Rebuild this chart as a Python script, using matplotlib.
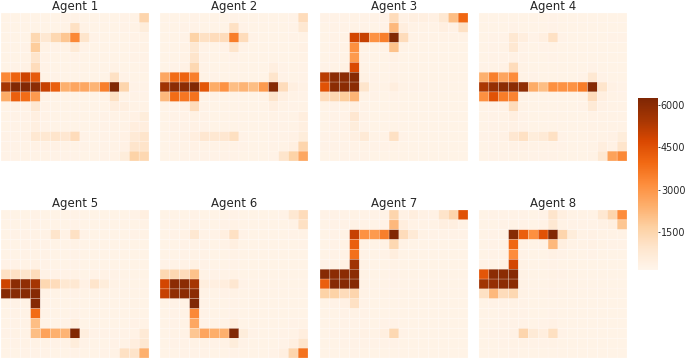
import numpy as np
import matplotlib
matplotlib.use('Agg')
from matplotlib import pyplot as plt

agent_1 = [
    [270, 270, 270, 280, 280, 280, 300, 300, 280, 280, 280, 280, 300, 330, 1500],
    [270, 270, 270, 280, 280, 280, 330, 1100, 330, 280, 280, 280, 300, 330, 600],
    [270, 280, 280, 1400, 800, 1400, 1900, 3300, 950, 300, 280, 280, 280, 300, 330],
    [270, 280, 300, 1750, 330, 300, 330, 700, 300, 280, 280, 280, 280, 300, 330],
    [270, 280, 330, 950, 300, 280, 280, 300, 280, 280, 280, 280, 280, 300, 310],
    [280, 300, 360, 1250, 300, 280, 280, 280, 280, 280, 280, 330, 280, 280, 300],
    [3300, 4100, 4900, 4300, 330, 300, 280, 280, 280, 280, 280, 1100, 310, 280, 280],
    [5500, 6200, 6200, 6000, 5000, 4200, 2400, 2650, 2600, 2300, 3500, 6200, 1500, 310, 300],
    [2500, 4200, 3900, 2900, 330, 280, 280, 280, 280, 280, 330, 1100, 340, 310, 300],
    [280, 300, 330, 800, 300, 280, 280, 280, 280, 280, 280, 500, 450, 330, 330],
    [280, 300, 300, 450, 300, 280, 280, 280, 280, 280, 300, 330, 330, 350, 600],
    [280, 300, 330, 450, 310, 280, 280, 280, 280, 280, 300, 330, 330, 500, 500],
    [300, 310, 350, 800, 800, 950, 850, 1250, 310, 280, 300, 330, 350, 700, 950],
    [300, 310, 330, 360, 350, 350, 330, 330, 300, 280, 300, 330, 360, 950, 1000],
    [300, 310, 330, 330, 330, 310, 300, 300, 280, 280, 300, 330, 600, 1600, 1400],
]
agent_2 = [
    [280, 280, 280, 300, 280, 280, 280, 310, 280, 280, 280, 280, 280, 300, 1250],
    [280, 280, 300, 310, 280, 280, 280, 1100, 310, 280, 280, 280, 280, 300, 800],
    [280, 280, 310, 1600, 1100, 1250, 1250, 3550, 1250, 300, 280, 280, 280, 300, 330],
    [280, 280, 330, 800, 310, 280, 310, 950, 300, 280, 280, 280, 280, 280, 360],
    [280, 280, 330, 950, 300, 280, 280, 310, 280, 280, 280, 280, 280, 280, 330],
    [280, 300, 350, 1400, 310, 280, 280, 280, 280, 280, 280, 450, 300, 280, 300],
    [2600, 3900, 4100, 3500, 330, 300, 280, 280, 280, 280, 280, 950, 310, 280, 300],
    [5600, 6000, 6000, 6200, 4400, 2500, 3100, 2100, 2300, 2100, 2900, 6100, 1250, 450, 360],
    [2200, 3900, 3700, 3750, 340, 300, 280, 280, 280, 280, 330, 950, 450, 330, 310],
    [280, 300, 350, 1250, 310, 280, 280, 280, 280, 280, 280, 450, 330, 300, 330],
    [280, 300, 310, 380, 310, 280, 280, 280, 280, 280, 280, 330, 310, 330, 500],
    [280, 300, 310, 350, 300, 280, 280, 280, 280, 280, 280, 300, 310, 330, 450],
    [280, 330, 350, 500, 850, 800, 850, 1150, 310, 280, 280, 300, 310, 350, 600],
    [280, 300, 330, 350, 340, 330, 330, 340, 300, 280, 280, 300, 330, 450, 1500],
    [280, 280, 300, 310, 310, 300, 300, 300, 280, 280, 280, 310, 950, 1600, 2600],
]
agent_3 = [
    [300, 300, 300, 330, 310, 300, 300, 1250, 360, 450, 450, 390, 800, 2100, 4000],
    [280, 300, 310, 330, 300, 280, 300, 2200, 500, 330, 330, 340, 450, 360, 1100],
    [280, 300, 330, 4800, 5000, 3100, 3500, 6200, 1250, 330, 340, 330, 330, 330, 330],
    [280, 300, 330, 3150, 330, 280, 330, 2000, 330, 280, 280, 280, 280, 280, 280],
    [280, 300, 330, 2900, 310, 280, 280, 360, 280, 280, 280, 280, 280, 280, 280],
    [310, 340, 370, 4700, 330, 280, 280, 300, 280, 280, 280, 280, 280, 280, 280],
    [5200, 6000, 6000, 6100, 370, 300, 280, 330, 280, 280, 280, 280, 280, 280, 280],
    [4500, 6000, 6000, 6000, 950, 330, 330, 500, 330, 310, 300, 280, 280, 280, 280],
    [1250, 1400, 1750, 2300, 340, 300, 280, 300, 280, 280, 280, 280, 280, 280, 280],
    [280, 300, 330, 450, 310, 280, 280, 280, 280, 280, 280, 280, 280, 280, 280],
    [280, 300, 310, 850, 310, 280, 280, 280, 280, 280, 280, 280, 280, 280, 280],
    [280, 300, 310, 600, 300, 280, 280, 280, 280, 280, 280, 280, 280, 280, 280],
    [300, 330, 340, 450, 700, 330, 340, 1100, 300, 280, 280, 280, 280, 280, 280],
    [300, 310, 310, 330, 330, 300, 300, 330, 280, 280, 280, 280, 280, 280, 280],
    [280, 280, 300, 300, 300, 280, 280, 280, 280, 280, 280, 280, 280, 280, 280],
]
agent_4 = [
    [280, 280, 280, 280, 280, 280, 280, 300, 280, 280, 280, 280, 280, 280, 280],
    [280, 280, 280, 300, 280, 280, 280, 300, 280, 280, 280, 280, 280, 280, 280],
    [280, 300, 310, 800, 500, 310, 450, 1100, 300, 280, 280, 280, 280, 300, 300],
    [280, 300, 330, 800, 310, 280, 300, 330, 280, 280, 280, 280, 280, 280, 280],
    [280, 300, 310, 360, 300, 280, 280, 300, 280, 280, 280, 280, 280, 280, 280],
    [300, 330, 360, 1250, 330, 280, 280, 280, 280, 280, 280, 310, 280, 280, 280],
    [2400, 3500, 2650, 3200, 330, 300, 280, 280, 280, 280, 300, 800, 310, 280, 280],
    [5400, 5800, 6000, 6000, 5900, 2500, 2100, 3150, 3100, 3100, 3550, 6100, 950, 360, 310],
    [3150, 4500, 3550, 3400, 330, 280, 280, 280, 280, 280, 330, 1250, 450, 330, 310],
    [280, 300, 350, 1250, 330, 280, 280, 280, 280, 280, 300, 700, 350, 330, 330],
    [280, 300, 330, 450, 310, 280, 280, 280, 280, 280, 280, 340, 340, 330, 340],
    [280, 300, 330, 360, 310, 280, 280, 280, 280, 280, 280, 330, 330, 330, 340],
    [300, 330, 350, 850, 1100, 600, 700, 1100, 310, 280, 280, 330, 340, 350, 600],
    [280, 300, 330, 350, 350, 330, 330, 340, 300, 280, 280, 330, 500, 350, 950],
    [280, 300, 310, 330, 330, 300, 300, 300, 280, 280, 280, 330, 800, 2700, 3300],
]
agent_5 = [
    [280, 280, 280, 300, 280, 280, 280, 310, 280, 280, 280, 280, 280, 300, 450],
    [280, 280, 280, 300, 280, 280, 280, 300, 280, 280, 280, 280, 280, 280, 330],
    [280, 300, 310, 340, 330, 950, 340, 1100, 300, 280, 280, 280, 280, 300, 330],
    [280, 280, 300, 330, 300, 280, 280, 330, 280, 280, 280, 280, 280, 280, 280],
    [280, 280, 300, 330, 300, 280, 280, 300, 280, 280, 280, 280, 280, 280, 280],
    [300, 310, 340, 380, 310, 280, 280, 300, 280, 280, 280, 280, 280, 280, 280],
    [1100, 1100, 950, 1250, 340, 310, 300, 330, 280, 300, 330, 310, 280, 280, 280],
    [4900, 6000, 5900, 5500, 1400, 1250, 800, 800, 360, 950, 600, 330, 280, 280, 280],
    [6100, 6100, 6100, 6100, 330, 280, 280, 300, 280, 280, 280, 280, 280, 280, 280],
    [280, 300, 330, 6100, 310, 280, 280, 280, 280, 280, 280, 280, 280, 280, 280],
    [280, 300, 330, 3900, 300, 280, 280, 310, 280, 280, 280, 280, 280, 280, 280],
    [280, 300, 330, 2100, 310, 280, 300, 500, 280, 280, 280, 280, 280, 300, 330],
    [300, 330, 340, 2100, 2700, 2400, 2300, 6200, 500, 310, 300, 300, 310, 340, 700],
    [280, 300, 330, 340, 330, 310, 330, 600, 300, 280, 280, 300, 330, 500, 800],
    [280, 280, 300, 300, 300, 280, 280, 300, 280, 280, 300, 330, 1100, 1000, 2400],
]
agent_6 = [
    [280, 280, 280, 300, 280, 280, 280, 300, 280, 280, 280, 280, 310, 800, 1250],
    [280, 280, 280, 300, 280, 280, 300, 330, 280, 280, 280, 280, 280, 330, 1100],
    [280, 300, 330, 800, 310, 300, 450, 1100, 300, 280, 280, 280, 280, 300, 330],
    [280, 280, 310, 340, 300, 280, 300, 450, 280, 280, 280, 280, 280, 280, 310],
    [280, 280, 300, 330, 300, 280, 280, 330, 280, 280, 280, 280, 280, 280, 280],
    [300, 300, 330, 370, 300, 280, 280, 310, 280, 280, 280, 280, 280, 280, 280],
    [1400, 1400, 1250, 2000, 340, 300, 300, 340, 280, 280, 280, 280, 280, 280, 280],
    [4800, 6000, 6000, 5500, 500, 450, 500, 850, 300, 280, 280, 280, 280, 280, 280],
    [5000, 5900, 6000, 6000, 330, 280, 300, 330, 280, 280, 280, 280, 280, 280, 280],
    [280, 300, 330, 6200, 310, 280, 280, 300, 280, 280, 280, 280, 280, 280, 280],
    [280, 300, 330, 3300, 310, 280, 280, 300, 280, 280, 280, 280, 280, 280, 280],
    [280, 300, 330, 2600, 310, 280, 300, 500, 280, 280, 280, 280, 280, 300, 330],
    [280, 330, 340, 1900, 2650, 2450, 2400, 6200, 600, 300, 280, 280, 300, 330, 500],
    [280, 300, 310, 340, 330, 310, 330, 600, 300, 280, 280, 280, 310, 450, 950],
    [280, 280, 300, 300, 300, 280, 280, 310, 280, 280, 280, 300, 450, 1500, 3750],
]
agent_7 = [
    [300, 300, 300, 330, 310, 300, 310, 1500, 360, 500, 360, 350, 1000, 1500, 4500],
    [280, 300, 310, 330, 300, 280, 310, 2200, 500, 330, 330, 340, 450, 450, 340],
    [280, 300, 330, 5000, 3100, 2900, 3500, 6200, 1250, 700, 330, 310, 310, 310, 310],
    [280, 300, 330, 4200, 330, 280, 330, 1400, 330, 280, 280, 280, 280, 280, 280],
    [280, 300, 330, 3800, 310, 280, 300, 500, 280, 280, 280, 280, 280, 280, 280],
    [300, 330, 370, 5600, 330, 280, 280, 330, 280, 280, 280, 280, 280, 280, 280],
    [6100, 6000, 6000, 6000, 330, 280, 280, 300, 280, 280, 280, 280, 280, 280, 280],
    [4200, 6100, 6100, 6100, 330, 280, 280, 300, 280, 280, 280, 280, 280, 280, 280],
    [1600, 1600, 1250, 1500, 330, 280, 280, 280, 280, 280, 280, 280, 280, 280, 280],
    [280, 300, 350, 1100, 310, 280, 280, 280, 280, 280, 280, 280, 280, 280, 280],
    [280, 280, 300, 330, 300, 280, 280, 280, 280, 280, 280, 280, 280, 280, 280],
    [280, 280, 300, 310, 300, 280, 300, 310, 280, 280, 280, 280, 280, 280, 280],
    [280, 300, 310, 330, 350, 330, 450, 1400, 300, 280, 280, 280, 280, 280, 280],
    [280, 280, 300, 310, 310, 300, 300, 310, 280, 280, 280, 280, 280, 280, 280],
    [280, 280, 280, 300, 280, 280, 280, 280, 280, 280, 280, 280, 280, 280, 280],
]
agent_8 = [
    [280, 300, 300, 310, 300, 280, 310, 950, 450, 330, 330, 340, 800, 1500, 3200],
    [280, 280, 300, 330, 300, 280, 330, 800, 330, 300, 300, 310, 350, 450, 1900],
    [280, 300, 330, 6100, 4200, 3150, 4500, 6200, 1500, 600, 340, 350, 340, 330, 330],
    [280, 300, 330, 4000, 340, 280, 330, 2200, 450, 330, 330, 360, 330, 310, 300],
    [280, 300, 330, 3200, 310, 280, 280, 350, 300, 280, 280, 300, 280, 280, 280],
    [300, 330, 360, 4800, 330, 280, 280, 310, 280, 280, 280, 280, 280, 280, 280],
    [4400, 6000, 6000, 6100, 330, 280, 280, 340, 300, 280, 280, 280, 280, 280, 280],
    [5600, 5800, 6000, 6000, 340, 280, 280, 330, 280, 280, 280, 280, 280, 280, 280],
    [1100, 2200, 1250, 1400, 330, 280, 280, 300, 280, 280, 280, 280, 280, 280, 280],
    [280, 300, 310, 340, 300, 280, 280, 280, 280, 280, 280, 280, 280, 280, 280],
    [280, 280, 300, 330, 300, 280, 280, 310, 280, 280, 280, 280, 280, 280, 280],
    [280, 280, 300, 310, 300, 280, 300, 350, 280, 280, 280, 280, 280, 280, 280],
    [280, 300, 310, 350, 1500, 700, 500, 1150, 300, 280, 280, 280, 280, 280, 280],
    [280, 280, 300, 330, 330, 300, 300, 330, 280, 280, 280, 280, 280, 280, 280],
    [280, 280, 280, 300, 280, 280, 280, 280, 280, 280, 280, 280, 280, 280, 280],
]

agents = [agent_1, agent_2, agent_3, agent_4, agent_5, agent_6, agent_7, agent_8]
titles = ['Agent 1', 'Agent 2', 'Agent 3', 'Agent 4',
          'Agent 5', 'Agent 6', 'Agent 7', 'Agent 8']
cbar_ticks = [1500, 3000, 4500, 6000]

W, H = 685, 358
lefts = [1, 160, 320, 479]
tops = [13, 210]
side = 148

fig = plt.figure(figsize=(W/100, H/100), dpi=100)

def px_axes(x, y, w, h):
    return fig.add_axes([x/W, 1 - (y + h)/H, w/W, h/H])

for i, vals in enumerate(agents):
    ax = px_axes(lefts[i % 4], tops[i // 4], side, side)
    mesh = ax.pcolormesh(np.array(vals), cmap='Oranges', vmin=150, vmax=6250,
                         edgecolors=(1, 1, 1, 0.5), linewidth=0.3, antialiased=True)
    mesh.set_snap(False)
    ax.invert_yaxis()
    ax.set_xticks([])
    ax.set_yticks([])
    for s in ax.spines.values():
        s.set_visible(False)
    ax.set_title(titles[i], fontsize=8.5, color='#262626', pad=2.5)

cax = px_axes(638, 98, 20, 172)
cb = fig.colorbar(mesh, cax=cax)
cb.set_ticks(cbar_ticks)
cb.outline.set_visible(False)
cax.tick_params(labelsize=6.9, length=1.5, width=0.6, pad=0.5, colors='#262626')

plt.savefig('out.png', dpi=100)
